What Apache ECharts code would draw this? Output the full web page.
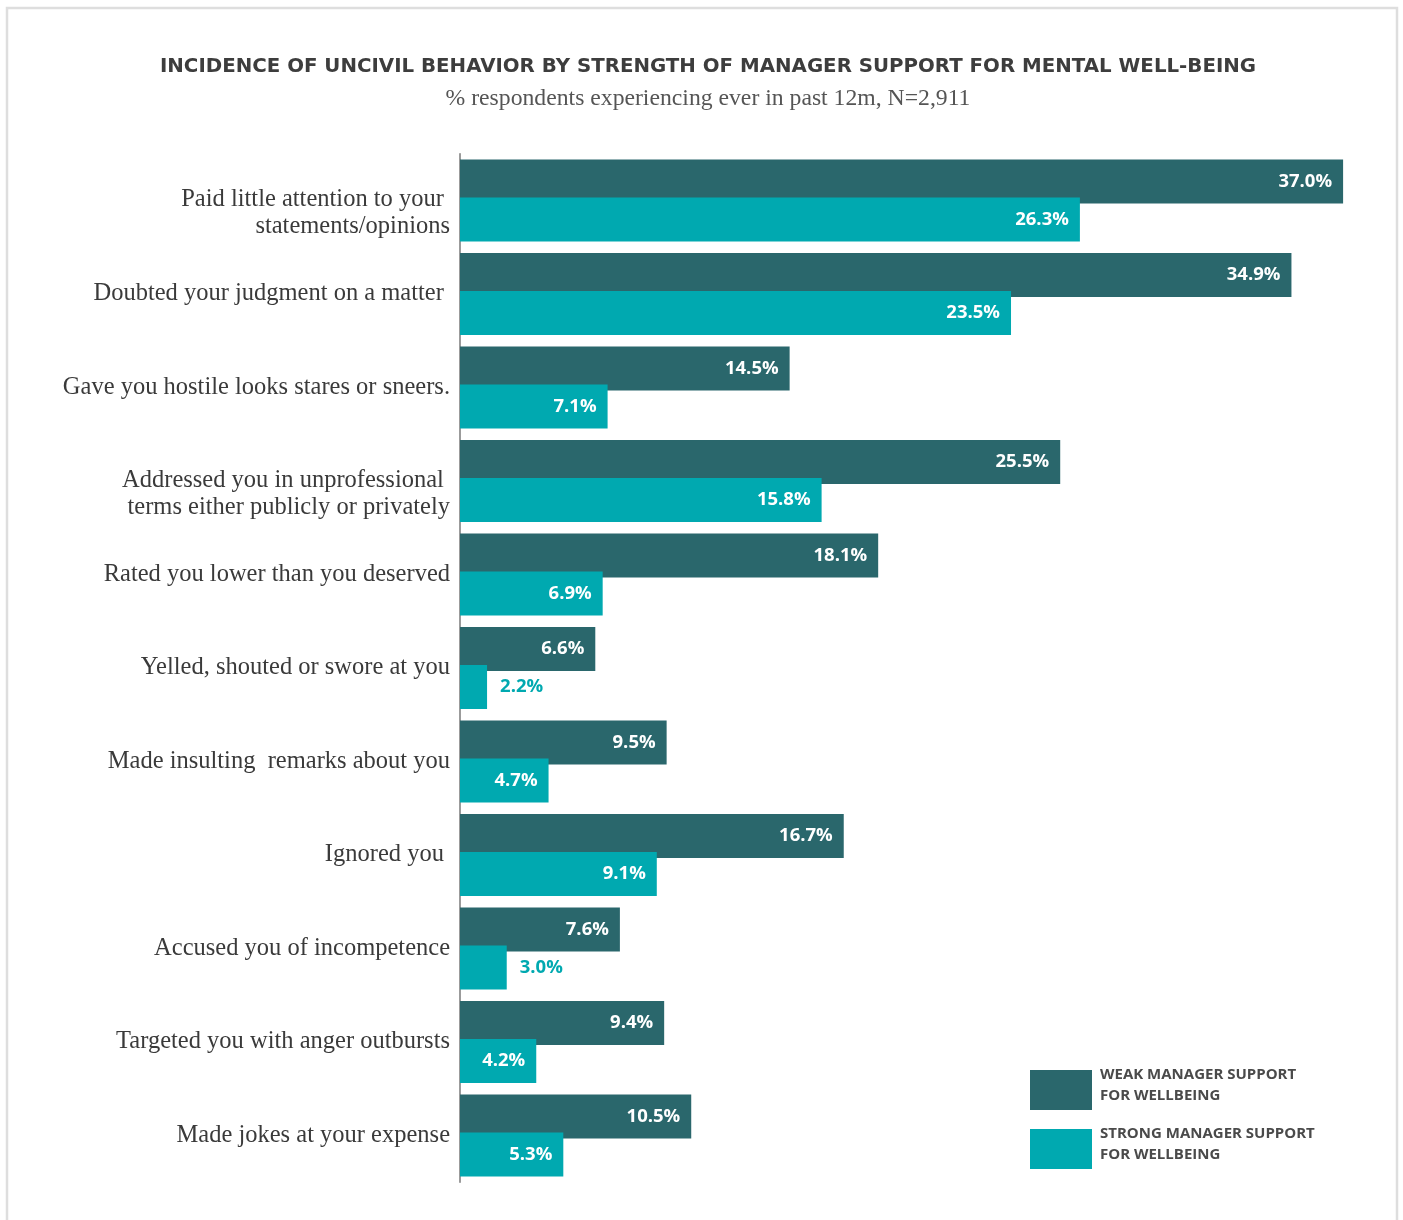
<!DOCTYPE html>
<html>
<head>
<meta charset="utf-8">
<title>Incidence of uncivil behavior by strength of manager support</title>
<script src="https://cdn.jsdelivr.net/npm/echarts@6/dist/echarts.min.js"></script>
<style>
  html, body { margin: 0; padding: 0; background: #ffffff; }
  #chart { width: 1403px; height: 1220px; }
</style>
</head>
<body>
<div id="chart"></div>
<script>
// Behaviours surveyed (top to bottom)
const categories = [
  'Paid little attention to your \nstatements/opinions',
  'Doubted your judgment on a matter ',
  'Gave you hostile looks stares or sneers.',
  'Addressed you in unprofessional \nterms either publicly or privately',
  'Rated you lower than you deserved',
  'Yelled, shouted or swore at you',
  'Made insulting  remarks about you',
  'Ignored you ',
  'Accused you of incompetence',
  'Targeted you with anger outbursts',
  'Made jokes at your expense'
];

// % respondents experiencing the behaviour in the past 12 months
const weakSupport   = [37.0, 34.9, 14.5, 25.5, 18.1, 6.6, 9.5, 16.7, 7.6, 9.4, 10.5];
const strongSupport = [26.3, 23.5, 7.1, 15.8, 6.9, 2.2, 4.7, 9.1, 3.0, 4.2, 5.3];

const seriesNames = [
  'WEAK MANAGER SUPPORT\nFOR WELLBEING',
  'STRONG MANAGER SUPPORT\nFOR WELLBEING'
];

const DARK = '#2a676c';
const TEAL = '#00a9b0';

const chart = echarts.init(document.getElementById('chart'), null, { renderer: 'canvas' });

const valueLabel = {
  show: true,
  position: 'insideRight',
  distance: 11,
  color: '#ffffff',
  fontFamily: 'Open Sans',
  fontWeight: 'bold',
  fontSize: 18.5,
  formatter: p => p.value.toFixed(1) + '%'
};

// Short bars carry their label outside, in the bar colour
function withLabels(values, color) {
  return values.map(v => v < 4
    ? { value: v, label: { position: 'right', distance: 13, color: color } }
    : v);
}

// Two-line category labels sit a little below the bar pair:
// a thin spacer line on top pushes the text block down.
function categoryLabel(value) {
  if (value.indexOf('\n') < 0) return value;
  return '{s| }\n' + value.split('\n').map(l => '{m|' + l + '}').join('\n');
}

// Legend text sits slightly above the middle of its swatch:
// a thin spacer line below lifts the two text lines.
function legendLabel(name) {
  return name.split('\n').map(l => '{t|' + l + '}').join('\n') + '\n{s| }';
}

const labelFont = {
  fontFamily: 'Liberation Serif',
  fontSize: 24.5,
  lineHeight: 27,
  color: '#3a3a3a'
};

const legendFont = {
  fontFamily: 'Open Sans',
  fontWeight: 'bold',
  fontSize: 15,
  lineHeight: 21,
  color: '#4a4a4a'
};

chart.setOption({
  backgroundColor: '#ffffff',
  animation: false,
  title: [
    {
      text: 'INCIDENCE OF UNCIVIL BEHAVIOR BY STRENGTH OF MANAGER SUPPORT FOR MENTAL WELL-BEING',
      left: 708,
      top: 57,
      padding: 0,
      textAlign: 'center',
      textStyle: {
        fontFamily: 'DejaVu Sans',
        fontWeight: 'bold',
        fontSize: 19.8,
        color: '#3d3d3d'
      }
    },
    {
      text: '% respondents experiencing ever in past 12m, N=2,911',
      left: 708,
      top: 87,
      padding: 0,
      textAlign: 'center',
      textStyle: {
        fontFamily: 'Liberation Serif',
        fontWeight: 'normal',
        fontSize: 23.7,
        color: '#555555'
      }
    }
  ],
  legend: {
    orient: 'vertical',
    left: 1025,
    top: 1059,
    itemWidth: 62,
    itemHeight: 40,
    itemGap: 7,
    icon: 'rect',
    selectedMode: false,
    data: seriesNames,
    formatter: legendLabel,
    textStyle: Object.assign({
      padding: [0, 0, 0, 3],
      rich: {
        t: Object.assign({}, legendFont),
        s: { fontSize: 4, lineHeight: 10 }
      }
    }, legendFont)
  },
  grid: {
    left: 460,
    right: 35.3,
    top: 153.75,
    bottom: 37.75,
    containLabel: false
  },
  xAxis: {
    type: 'value',
    min: 1.1,
    max: 38,
    show: false
  },
  yAxis: {
    type: 'category',
    inverse: true,
    data: categories,
    axisTick: { show: false },
    axisLine: { show: true, lineStyle: { color: '#7a7a7a', width: 1.5 } },
    axisLabel: Object.assign({
      margin: 10,
      align: 'right',
      formatter: categoryLabel,
      rich: {
        s: { fontSize: 4, lineHeight: 26 },
        m: Object.assign({ align: 'right' }, labelFont)
      }
    }, labelFont)
  },
  series: [
    {
      name: seriesNames[0],
      type: 'bar',
      data: withLabels(weakSupport, DARK),
      barWidth: 44,
      barGap: '-14%',
      clip: true,
      itemStyle: { color: DARK },
      label: valueLabel
    },
    {
      name: seriesNames[1],
      type: 'bar',
      data: withLabels(strongSupport, TEAL),
      barWidth: 44,
      barGap: '-14%',
      clip: true,
      itemStyle: { color: TEAL },
      label: valueLabel
    }
  ],
  graphic: [
    {
      type: 'rect',
      z: -10,
      silent: true,
      shape: { x: 7, y: 8, width: 1390, height: 1240 },
      style: { fill: 'none', stroke: '#dedede', lineWidth: 2.5 }
    }
  ]
});
</script>
</body>
</html>
